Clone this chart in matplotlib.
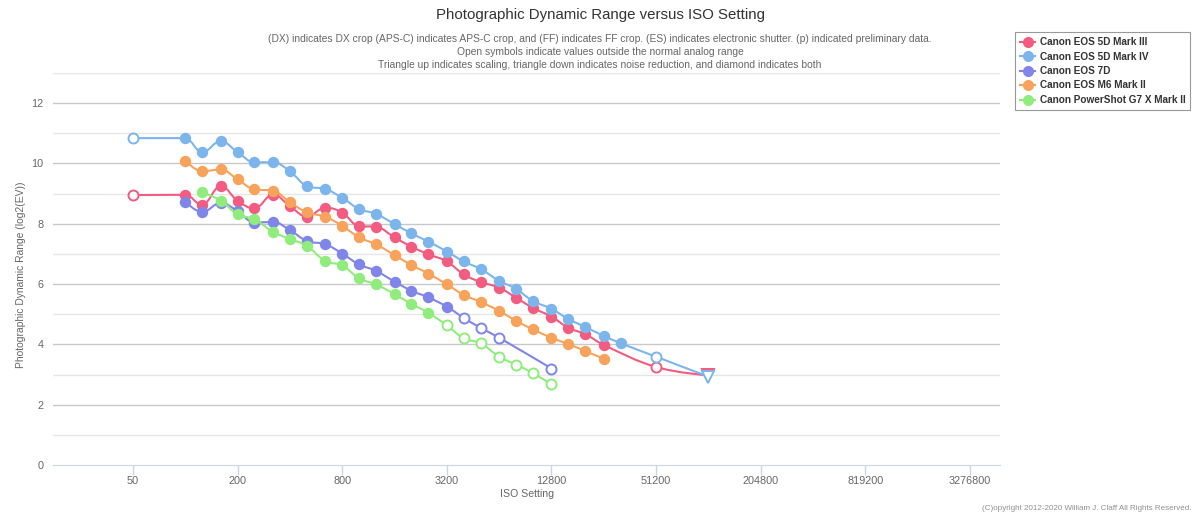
import matplotlib
matplotlib.use('Agg')
import matplotlib.pyplot as plt
from matplotlib.path import Path
from matplotlib.patches import PathPatch
from matplotlib.lines import Line2D
import numpy as np

plt.rcParams['font.family'] = ['Liberation Sans', 'DejaVu Sans']

# ------------------------------- data ---------------------------------------
names = ['Canon EOS 5D Mark III', 'Canon EOS 5D Mark IV', 'Canon EOS 7D',
         'Canon EOS M6 Mark II', 'Canon PowerShot G7 X Mark II']
colors = ['#f15c80', '#7cb5ec', '#8085e9', '#f7a35c', '#90ed7d']

iso_5d3 = [50, 100, 125, 160, 200, 250, 320, 400, 500, 640, 800, 1000, 1250,
           1600, 2000, 2500, 3200, 4000, 5000, 6400, 8000, 10000, 12800,
           16000, 20000, 25600, 51200, 102400]
pdr_5d3 = [8.95, 8.96, 8.63, 9.25, 8.76, 8.51, 8.97, 8.58, 8.24, 8.53, 8.37,
           7.92, 7.90, 7.55, 7.24, 6.99, 6.75, 6.32, 6.07, 5.88, 5.55, 5.21,
           4.92, 4.55, 4.34, 3.98, 3.25, 2.97]
open_5d3 = [50, 51200]
tri_5d3 = [102400]

iso_5d4 = [50, 100, 125, 160, 200, 250, 320, 400, 500, 640, 800, 1000, 1250,
           1600, 2000, 2500, 3200, 4000, 5000, 6400, 8000, 10000, 12800,
           16000, 20000, 25600, 32000, 51200, 102400]
pdr_5d4 = [10.84, 10.84, 10.37, 10.74, 10.37, 10.04, 10.04, 9.74, 9.25, 9.15,
           8.86, 8.49, 8.33, 7.99, 7.68, 7.41, 7.08, 6.75, 6.50, 6.11, 5.84,
           5.44, 5.18, 4.84, 4.58, 4.28, 4.04, 3.59, 2.93]
open_5d4 = [50, 51200]
tri_5d4 = [102400]

iso_7d = [100, 125, 160, 200, 250, 320, 400, 500, 640, 800, 1000, 1250, 1600,
          2000, 2500, 3200, 4000, 5000, 6400, 12800]
pdr_7d = [8.73, 8.39, 8.69, 8.42, 8.04, 8.06, 7.79, 7.43, 7.32, 7.01, 6.65,
          6.44, 6.08, 5.78, 5.56, 5.25, 4.88, 4.55, 4.22, 3.20]
open_7d = [4000, 5000, 6400, 12800]
tri_7d = []

iso_m6 = [100, 125, 160, 200, 250, 320, 400, 500, 640, 800, 1000, 1250, 1600,
          2000, 2500, 3200, 4000, 5000, 6400, 8000, 10000, 12800, 16000,
          20000, 25600]
pdr_m6 = [10.09, 9.74, 9.80, 9.47, 9.14, 9.10, 8.71, 8.38, 8.23, 7.93, 7.55,
          7.32, 6.96, 6.63, 6.35, 5.99, 5.64, 5.41, 5.11, 4.78, 4.50, 4.22,
          4.01, 3.78, 3.52]
open_m6 = []
tri_m6 = []

iso_g7 = [125, 160, 200, 250, 320, 400, 500, 640, 800, 1000, 1250, 1600, 2000,
          2500, 3200, 4000, 5000, 6400, 8000, 10000, 12800]
pdr_g7 = [9.04, 8.77, 8.31, 8.15, 7.73, 7.49, 7.27, 6.76, 6.62, 6.19, 5.99,
          5.67, 5.34, 5.05, 4.63, 4.20, 4.04, 3.59, 3.33, 3.05, 2.67]
open_g7 = [3200, 4000, 5000, 6400, 8000, 10000, 12800]
tri_g7 = []

series = [(iso_5d3, pdr_5d3, open_5d3, tri_5d3),
          (iso_5d4, pdr_5d4, open_5d4, tri_5d4),
          (iso_7d, pdr_7d, open_7d, tri_7d),
          (iso_m6, pdr_m6, open_m6, tri_m6),
          (iso_g7, pdr_g7, open_g7, tri_g7)]

xticks = [50, 200, 800, 3200, 12800, 51200, 204800, 819200, 3276800]


def spline_path(xs, ys, sm=1.5):
    # highcharts-like spline, worked out in log2 space so it follows the axis
    lx = np.log2(np.asarray(xs, float))
    ys = np.asarray(ys, float)
    n = len(lx)
    lc, rc = [], []
    for i in range(n):
        px, py = lx[i], ys[i]
        if 0 < i < n - 1:
            bx, by = lx[i - 1], ys[i - 1]
            nx, ny = lx[i + 1], ys[i + 1]
            lcx, lcy = (sm * px + bx) / (sm + 1), (sm * py + by) / (sm + 1)
            rcx, rcy = (sm * px + nx) / (sm + 1), (sm * py + ny) / (sm + 1)
            corr = 0.0
            if rcx != lcx:
                corr = (rcy - lcy) * (rcx - px) / (rcx - lcx) + py - rcy
            lcy += corr
            rcy += corr
            if lcy > by and lcy > py:
                lcy = max(by, py); rcy = 2 * py - lcy
            elif lcy < by and lcy < py:
                lcy = min(by, py); rcy = 2 * py - lcy
            if rcy > ny and rcy > py:
                rcy = max(ny, py); lcy = 2 * py - rcy
            elif rcy < ny and rcy < py:
                rcy = min(ny, py); lcy = 2 * py - rcy
            lc.append((lcx, lcy)); rc.append((rcx, rcy))
        else:
            lc.append((px, py)); rc.append((px, py))
    verts = [(lx[0], ys[0])]
    codes = [Path.MOVETO]
    for i in range(1, n):
        verts += [rc[i - 1], lc[i], (lx[i], ys[i])]
        codes += [Path.CURVE4] * 3
    verts = np.array(verts)
    verts[:, 0] = 2 ** verts[:, 0]
    return Path(verts, codes)


fig = plt.figure(figsize=(12, 5.16), dpi=100)
ax = fig.add_axes([53 / 1200, 1 - 465 / 516, 947 / 1200, (465 - 73) / 516])

ax.set_xscale('log', base=2)
ax.set_xlim(2 ** 4.115, 2 ** 22.217)
ax.set_ylim(0, 13)

# grid lines: even values darker, odd values lighter
for v in range(1, 14):
    ax.axhline(v, color='#c8c8c8' if v % 2 == 0 else '#e6e6e6', lw=1, zorder=0)

for k, (iso, pdr, op, tri) in enumerate(series):
    c = colors[k]
    z = 3 + k
    ax.add_patch(PathPatch(spline_path(iso, pdr), fill=False, edgecolor=c,
                           lw=1.5, zorder=z, capstyle='round'))
    fx = [i for i, v in zip(iso, pdr) if i not in op and i not in tri]
    fy = [v for i, v in zip(iso, pdr) if i not in op and i not in tri]
    ox = [i for i, v in zip(iso, pdr) if i in op]
    oy = [v for i, v in zip(iso, pdr) if i in op]
    tx = [i for i, v in zip(iso, pdr) if i in tri]
    ty = [v for i, v in zip(iso, pdr) if i in tri]
    ax.plot(fx, fy, ls='none', marker='o', ms=8.2, mfc=c, mec=c, mew=0,
            zorder=z + 0.1)
    ax.plot(ox, oy, ls='none', marker='o', ms=7.2, mfc='white', mec=c,
            mew=1.4, zorder=z + 0.1)
    ax.plot(tx, ty, ls='none', marker='v', ms=8, mfc='white', mec=c,
            mew=1.4, zorder=z + 0.1)

ax.set_xticks(xticks)
ax.set_xticklabels([str(t) for t in xticks])
ax.xaxis.set_minor_locator(matplotlib.ticker.NullLocator())
ax.set_yticks(range(0, 13, 2))
ax.tick_params(axis='x', colors='#ccd6eb', length=7, width=1, labelcolor='#666666',
               labelsize=7.8, pad=1)
ax.tick_params(axis='y', length=0, labelcolor='#666666', labelsize=7.8, pad=7)

for s in ['top', 'right', 'left']:
    ax.spines[s].set_visible(False)
ax.spines['bottom'].set_color('#ccd6eb')
ax.spines['bottom'].set_zorder(1)

ax.set_xlabel('ISO Setting', fontsize=7.6, color='#666666')
ax.xaxis.set_label_coords(0.5, -(489 - 465) / 392)
ax.set_ylabel('Photographic Dynamic Range (log2(EV))', fontsize=7.4,
              color='#666666')
ax.yaxis.set_label_coords(-(53 - 26) / 947, 0.5 - (275 - 269) / 392)

fig.text(0.5, 1 - 15 / 516, 'Photographic Dynamic Range versus ISO Setting',
         ha='center', va='center', fontsize=10.8, color='#333333')
subtitle = ['(DX) indicates DX crop (APS-C) indicates APS-C crop, and (FF) indicates FF crop. '
            '(ES) indicates electronic shutter. (p) indicated preliminary data.',
            'Open symbols indicate values outside the normal analog range',
            'Triangle up indicates scaling, triangle down indicates noise reduction, '
            'and diamond indicates both']
for j, line in enumerate(subtitle):
    fig.text(0.5, 1 - (39 + 13 * j) / 516, line, ha='center', va='center',
             fontsize=7.35, color='#666666')

fig.text(1192 / 1200, 1 - 508 / 516,
         '(C)opyright 2012-2020 William J. Claff All Rights Reserved.',
         ha='right', va='center', fontsize=5.8, color='#909090')

handles = [Line2D([0], [0], color=c, lw=1.5, marker='o', ms=8, mew=0)
           for c in colors]
leg = fig.legend(handles, names, loc='upper left',
                 bbox_to_anchor=(1015 / 1200, 1 - 32 / 516),
                 prop={'weight': 'bold', 'size': 7.2}, labelcolor='#333333',
                 fancybox=False, edgecolor='#999999', framealpha=1,
                 handlelength=1.5, handletextpad=0.45, labelspacing=0.45,
                 borderpad=0.5, borderaxespad=0)
leg.get_frame().set_linewidth(0.8)

fig.savefig('out.png', dpi=100)
